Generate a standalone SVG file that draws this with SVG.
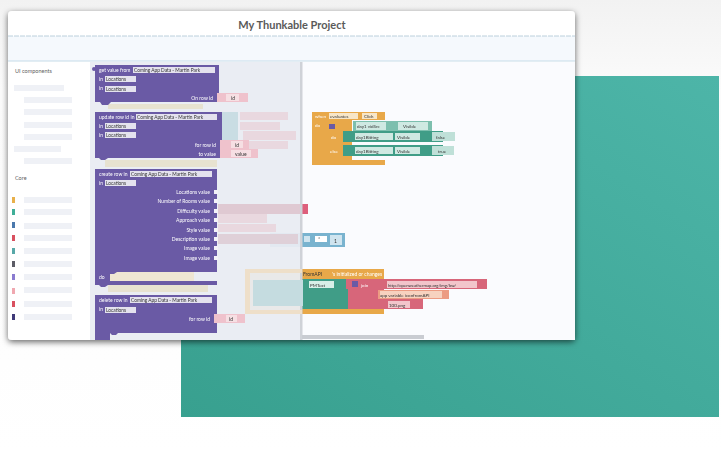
<svg xmlns="http://www.w3.org/2000/svg" width="721" height="452" viewBox="0 0 721 452">
<defs>
<linearGradient id="teal" x1="0" y1="1" x2="1" y2="0"><stop offset="0" stop-color="#38a08f"/><stop offset="1" stop-color="#4db5a8"/></linearGradient>
<filter id="soft" x="-5%" y="-5%" width="110%" height="110%"><feGaussianBlur stdDeviation="0.5"/></filter>
<filter id="shadow" x="-5%" y="-5%" width="110%" height="110%"><feDropShadow dx="0" dy="2" stdDeviation="3" flood-color="#000" flood-opacity="0.6"/></filter>
<linearGradient id="bg" x1="0" y1="0" x2="0" y2="1"><stop offset="0" stop-color="#f2f2f2"/><stop offset="0.2" stop-color="#fbfbfb"/><stop offset="1" stop-color="#ffffff"/></linearGradient>
</defs>
<style>
text{font-family:"Lato","Liberation Sans",sans-serif}
.t{font-size:5px;fill:#fff}
.d{font-size:5px;fill:#333}
.side{font-size:5.5px;fill:#5f5f5f}
.ph{fill:#eff1f6}
.pur{fill:#6a5aa5}
.chip{fill:#e4e2ee}
.pk{fill:#efc2cc}
.f{fill:#e9c4cc;opacity:.5}
.o{fill:#e8a84a}
.g{fill:#3f9d87}
.lg{fill:#bfe0d8}
.r{fill:#d7667a}
</style>
<rect width="721" height="452" fill="url(#bg)"/>
<rect x="181" y="76" width="538" height="341" fill="url(#teal)"/>
<g id="window">
<rect x="8" y="11" width="567" height="329" rx="4" fill="#fff" filter="url(#shadow)"/>
<rect x="8" y="36" width="567" height="25" fill="#f5f9fd"/>
<line x1="8" y1="36" x2="575" y2="36" stroke="#bcd0dc" stroke-width="1" stroke-dasharray="5 1"/>
<line x1="8" y1="61" x2="575" y2="61" stroke="#c5dbe8" stroke-width="1"/>
<rect x="90" y="62" width="485" height="278" fill="#fafbfe"/>
<text x="292" y="29" text-anchor="middle" font-weight="700" fill="#5a5a5a" style="font-size:11px">My Thunkable Project</text>
</g>
<g id="sidebar">
<text class="side" x="15" y="73">UI components</text>
<rect class="ph" x="14" y="85" width="50" height="6"/>
<rect class="ph" x="24" y="97" width="48" height="6"/>
<rect class="ph" x="24" y="109" width="48" height="6"/>
<rect class="ph" x="24" y="122" width="48" height="6"/>
<rect class="ph" x="24" y="134" width="48" height="6"/>
<rect class="ph" x="14" y="146" width="47" height="6"/>
<rect class="ph" x="24" y="158" width="48" height="6"/>
<text class="side" x="15" y="180">Core</text>
<g class="ph">
<rect x="24" y="197" width="48" height="6"/><rect x="24" y="209" width="48" height="6"/><rect x="24" y="223" width="48" height="6"/><rect x="24" y="235" width="48" height="6"/><rect x="24" y="248" width="48" height="6"/><rect x="24" y="261" width="48" height="6"/><rect x="24" y="274" width="48" height="6"/><rect x="24" y="287" width="48" height="6"/><rect x="24" y="301" width="48" height="6"/><rect x="24" y="314" width="48" height="6"/>
</g>
<rect x="12" y="197" width="3" height="6" fill="#e8b04a"/>
<rect x="12" y="209" width="3" height="6" fill="#3fae97"/>
<rect x="12" y="222" width="3" height="6" fill="#4a78ac"/>
<rect x="12" y="235" width="3" height="6" fill="#d9505f"/>
<rect x="12" y="248" width="3" height="6" fill="#58a8a8"/>
<rect x="12" y="261" width="3" height="6" fill="#5c5c66"/>
<rect x="12" y="274" width="3" height="6" fill="#8a7bd0"/>
<rect x="12" y="288" width="3" height="6" fill="#f0a8b0"/>
<rect x="12" y="301" width="3" height="6" fill="#d9505f"/>
<rect x="12" y="314" width="3" height="6" fill="#3f3a78"/>
</g>
<g id="orange-if-block" filter="url(#soft)">
<path class="o" d="M312 112H385V120H352V160H385V165H312Z"/>
<rect x="329" y="124" width="6" height="5" fill="#6a5aa5"/>
<rect x="329" y="113" width="29" height="6" fill="#f7e6c8"/><rect x="362" y="113" width="15" height="6" fill="#f7e6c8"/>
<text class="d" x="330" y="118" style="font-size:4.5px">evaluates</text><text class="d" x="364" y="118" style="font-size:4.5px">Click</text>
<text class="t" x="315" y="118" style="font-size:4.5px">when</text><text class="t" x="315" y="127" style="font-size:4.5px">do</text>
<rect x="353" y="121" width="79" height="10" fill="#7dbfae"/>
<rect x="356" y="122" width="30" height="8" fill="#cfe9e2"/><rect x="398" y="122" width="30" height="8" fill="#cfe9e2"/>
<text class="d" x="357" y="127.500" style="font-size:4.500px">day1 vidSrc</text><text class="d" x="403" y="127.500" style="font-size:4.500px">Visible</text>
<rect x="343" y="131" width="100" height="11" class="g"/><rect x="432" y="132" width="23" height="9" class="lg"/>
<rect x="355" y="133" width="38" height="7" fill="#cfe9e2"/><rect x="395" y="133" width="25" height="7" fill="#cfe9e2"/>
<text class="d" x="356" y="138.500" style="font-size:4.500px">day1Bitting</text><text class="d" x="397" y="138.500" style="font-size:4.500px">Visible</text><text class="d" x="436" y="138.500" style="font-size:4.500px">false</text>
<rect x="343" y="145" width="100" height="11" class="g"/><rect x="432" y="146" width="22" height="9" class="lg"/>
<rect x="355" y="147" width="38" height="7" fill="#cfe9e2"/><rect x="395" y="147" width="25" height="7" fill="#cfe9e2"/>
<text class="d" x="356" y="152.500" style="font-size:4.500px">day1Bitting</text><text class="d" x="397" y="152.500" style="font-size:4.500px">Visible</text><text class="d" x="438" y="152.500" style="font-size:4.500px">true</text>
<text class="t" x="331" y="138.500" style="font-size:4.500px">do</text><text class="t" x="330" y="152.500" style="font-size:4.500px">else</text>
</g>
<g id="behind-blocks" filter="url(#soft)">
<rect x="300" y="204" width="8" height="10" fill="#dd5f7b"/>
<rect x="270" y="233" width="75" height="14" fill="#79b3cf"/>
<rect x="304" y="236" width="6" height="6" fill="#cfe4ef"/><rect x="315" y="236" width="12" height="6" fill="#fff"/><rect x="330" y="235" width="12" height="10" fill="#cfe4ef"/>
<text class="d" x="318" y="241">*</text><text class="d" x="334" y="243">1</text>
<path class="o" d="M245 269H384V314H245Z"/>
<rect x="300" y="279" width="48" height="30" class="g"/>
<rect x="348" y="279" width="36" height="30" class="r"/>
<rect x="346" y="279" width="141" height="10" class="r"/>
<rect x="378" y="290" width="71" height="9" fill="#ec9c83"/>
<rect x="378" y="299" width="45" height="10" class="r"/>
<rect x="309" y="281" width="25" height="7" fill="#d8efe8"/>
<text class="d" x="310" y="286.500" style="font-size:4.500px">PMText</text>
<text class="t" x="361" y="286.500" style="font-size:4.500px">join</text>
<rect x="352" y="281" width="6" height="6" fill="#6a5aa5"/>
<rect x="387" y="281" width="90" height="7" fill="#f2c5cb"/>
<text class="d" x="388" y="286.500" style="font-size:4.200px">http://openweathermap.org/img/bw/</text>
<rect x="380" y="291" width="62" height="7" fill="#f7d2bf"/>
<text class="d" x="380" y="296.500" style="font-size:4.500px">app variable iconfromAPI</text>
<rect x="388" y="301" width="22" height="7" fill="#f2c5cb"/>
<text class="d" x="389" y="306.500" style="font-size:4.500px">100.png</text>
<text class="d" x="303" y="276" style="font-size:5px">FromAPI</text>
<text class="t" x="332" y="276" style="font-size:5px">'s initialized or changes</text>
</g>
<g id="workspace-overlay">
<rect x="90" y="62" width="212" height="278" fill="#e9ecf2" opacity=".95"/>
<rect x="300" y="62" width="2.500" height="278" fill="#cfd2d8"/>
<rect x="302" y="335" width="122" height="4" fill="#c9ccd2"/>
<rect x="222" y="112" width="16" height="45" fill="#c9dde3"/>
<rect x="253" y="280" width="50" height="26" fill="#c5dce0"/>
<path d="M245 269H302V273H250V310H302V314H245Z" fill="#eedfc9"/>
</g>
<g id="ghost-blocks" filter="url(#soft)">
<rect class="f" x="240" y="112" width="48" height="8"/><rect class="f" x="240" y="122" width="40" height="8"/><rect class="f" x="243" y="131" width="53" height="9"/><rect class="f" x="240" y="141" width="48" height="8"/>
<rect x="218" y="204" width="82" height="10" fill="#dfc9d2"/><rect x="218" y="214" width="49" height="9" class="f"/><rect x="218" y="224" width="58" height="8" class="f"/><rect x="218" y="234" width="80" height="10" fill="#dfd0d8"/>
<rect x="109" y="272" width="85" height="9" fill="#efe6d3"/>
<rect x="108" y="285" width="100" height="7" fill="#e7e2d0"/>
<rect x="108" y="104" width="95" height="5" fill="#e7e2d0"/>
<rect x="105" y="160" width="112" height="7" fill="#e7e2d0"/>
</g>
<g id="block-get-row" filter="url(#soft)">
<path class="pur" d="M95 65H219V102H111L108 105H102L100 102H95Z"/>
<circle cx="94" cy="69" r="2" class="pur"/>
<text class="t" x="99" y="71.500">get value from</text>
<rect class="chip" x="133" y="67" width="82" height="6"/><text class="d" x="134" y="71.800" style="font-size:4.800px">Coming App Data - Martin Park</text>
<text class="t" x="99" y="81">in</text><rect class="chip" x="105" y="76" width="31" height="6"/><text class="d" x="106" y="81" style="font-size:4.800px">Locations</text>
<text class="t" x="99" y="90">in</text><rect class="chip" x="105" y="86" width="31" height="6"/><text class="d" x="106" y="90.800" style="font-size:4.800px">Locations</text>
<text class="t" x="213" y="100" text-anchor="end">On row id</text>
<rect class="pk" x="217" y="93" width="31" height="9"/><rect x="226" y="94" width="13" height="7" fill="#f6dfe3"/><text class="d" x="231" y="99.500">id</text>
</g>
<g id="block-update-row" filter="url(#soft)">
<path class="pur" d="M95 112H222V158H108L105 160H101L99 158H95Z"/>
<text class="t" x="99" y="118.500">update row id in</text>
<rect class="chip" x="136" y="114" width="81" height="6"/><text class="d" x="137" y="118.800" style="font-size:4.800px">Coming App Data - Martin Park</text>
<text class="t" x="99" y="127.500">in</text><rect class="chip" x="105" y="123" width="31" height="6"/><text class="d" x="106" y="127.800" style="font-size:4.800px">Locations</text>
<text class="t" x="99" y="136.500">in</text><rect class="chip" x="105" y="132" width="31" height="6"/><text class="d" x="106" y="136.800" style="font-size:4.800px">Locations</text>
<text class="t" x="216" y="146.500" text-anchor="end">for row id</text>
<text class="t" x="216" y="155.500" text-anchor="end">to value</text>
<rect class="pk" x="220" y="140" width="29" height="9"/><rect x="231" y="141" width="12" height="7" fill="#f6dfe3"/><text class="d" x="235" y="146.500">id</text>
<rect class="pk" x="220" y="149" width="38" height="9"/><rect x="231" y="150" width="20" height="7" fill="#f6dfe3"/><text class="d" x="235" y="155.500">value</text>
</g>
<g id="block-create-row" filter="url(#soft)">
<path class="pur" d="M95 169H217V272H117L114 274H110V281H217V285H108L105 287H101L99 285H95Z"/>
<text class="t" x="99" y="175.500">create row in</text>
<rect class="chip" x="130" y="171" width="82" height="6"/><text class="d" x="131" y="175.800" style="font-size:4.800px">Coming App Data - Martin Park</text>
<text class="t" x="99" y="185">in</text><rect class="chip" x="105" y="180" width="31" height="6"/><text class="d" x="106" y="184.800" style="font-size:4.800px">Locations</text>
<g class="t" text-anchor="end">
<text x="210" y="194">Locations value</text><text x="210" y="203">Number of Rooms value</text><text x="210" y="213">Difficulty value</text><text x="210" y="222">Approach value</text><text x="210" y="231.500">Style value</text><text x="210" y="241">Description value</text><text x="210" y="250">Image value</text><text x="210" y="259.500">Image value</text>
</g>
<g fill="#f3f1f8"><rect x="214" y="190" width="4" height="4"/><rect x="214" y="199" width="4" height="4"/><rect x="214" y="209" width="4" height="4"/><rect x="214" y="218" width="4" height="4"/><rect x="214" y="228" width="4" height="4"/><rect x="214" y="237" width="4" height="4"/><rect x="214" y="246" width="4" height="4"/><rect x="214" y="256" width="4" height="4"/></g>
<text class="t" x="99" y="279">do</text>
</g>
<g id="block-delete-row" filter="url(#soft)">
<path class="pur" d="M95 295H217V333H118L116 335H112L110 333V340H95Z"/>
<text class="t" x="99" y="301.500">delete row in</text>
<rect class="chip" x="130" y="297" width="82" height="6"/><text class="d" x="131" y="301.800" style="font-size:4.800px">Coming App Data - Martin Park</text>
<text class="t" x="99" y="311">in</text><rect class="chip" x="105" y="307" width="31" height="6"/><text class="d" x="106" y="311.800" style="font-size:4.800px">Locations</text>
<text class="t" x="210" y="320.500" text-anchor="end">for row id</text>
<rect class="pk" x="214" y="314" width="31" height="9"/><rect x="226" y="315" width="11" height="7" fill="#f6dfe3"/><text class="d" x="229" y="320.500">id</text>
</g>
</svg>
